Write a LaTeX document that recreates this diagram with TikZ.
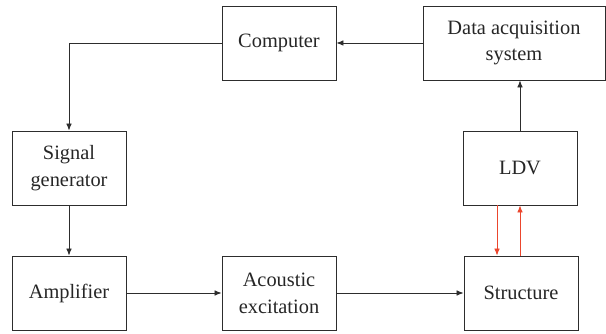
\documentclass[tikz,border=0pt]{standalone}
\usepackage{fontspec}
\setmainfont{Liberation Serif}
\usepackage{xcolor}
\definecolor{line}{RGB}{45,45,45}
\definecolor{beam}{RGB}{235,70,45}
\usetikzlibrary{positioning, calc, arrows.meta}
\tikzstyle{Block} = [
draw=line, semithick,
minimum width=2.85cm, minimum height=1.85cm,
align=center, inner sep=2pt,
font=\fontsize{14.5}{19}\selectfont, text=black!85]
\tikzstyle{Arrow} = [
line, semithick, -{Latex[length=5pt, width=4pt]}]
\tikzstyle{Beam} = [
beam, semithick, -{Latex[length=5pt, width=4pt]}]

\begin{document}
\begin{tikzpicture}
    \useasboundingbox (0,0) rectangle (15.15,-8.35);
    \node [Block] (1) at (6.975,-1.075) {Computer};
    \node [Block, minimum width=4.55cm] (2) at (12.85,-1.075) {Data acquisition\\system};
    \node [Block] (3) at (1.725,-4.2) {Signal\\generator};
    \node [Block] (4) at (13.0,-4.2) {LDV};
    \node [Block] (5) at (1.725,-7.325) {Amplifier};
    \node [Block] (6) at (6.975,-7.325) {Acoustic\\excitation};
    \node [Block] (7) at (13.025,-7.325) {Structure};

    \coordinate (a) at ([xshift=-0.575cm]4.south);
    \coordinate (b) at (4.south);

    \draw[Arrow] (2.west) -- (1.east);
    \draw[Arrow] (1.west) -| (3.north);
    \draw[Arrow] (3.south) -- (5.north);
    \draw[Arrow] (5.east) -- (6.west);
    \draw[Arrow] (6.east) -- (7.west);
    \draw[Arrow] (4.north) -- (4.north |- 2.south);
    \draw[Beam] (a) -- (a |- 7.north);
    \draw[Beam] (b |- 7.north) -- (b);
\end{tikzpicture}
\end{document}
